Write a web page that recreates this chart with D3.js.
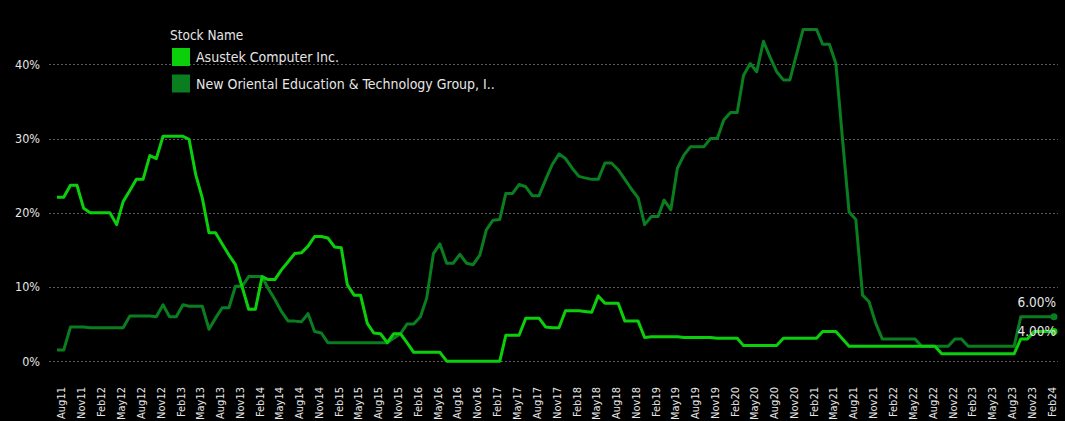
<!DOCTYPE html>
<html>
<head>
<meta charset="utf-8">
<script src="https://cdn.jsdelivr.net/npm/d3@7"></script>
<style>
  body { margin: 0; background: #000; }
  svg { display: block; background: #000; }
  text { font-family: 'DejaVu Sans Condensed', 'DejaVu Sans', sans-serif; font-stretch: condensed; fill: #e6e6e6; }
</style>
</head>
<body>
<div id="chart"></div>
<script>
var seriesNames = ['Asustek Computer Inc.', 'New Oriental Education & Technology Group, I..'];
var seriesColors = ['#0ccf0c', '#0a7d20'];
var startMonth = new Date(2011, 6, 1);

// monthly values in %, Jul 2011 .. Feb 2024
var asustek = [
    22.1, 22.1, 23.7, 23.7, 20.6, 20.0, 20.0, 20.0, 20.0, 18.4,
    21.5, 23.0, 24.5, 24.5, 27.7, 27.3, 30.3, 30.3, 30.3, 30.3,
    29.9, 25.1, 22.0, 17.3, 17.3, 15.8, 14.3, 13.0, 10.0, 7.0,
    7.0, 11.4, 11.0, 11.0, 12.3, 13.4, 14.5, 14.6, 15.5, 16.8,
    16.8, 16.6, 15.4, 15.3, 10.3, 8.9, 8.9, 5.1, 3.8, 3.7,
    2.5, 3.7, 3.7, 2.5, 1.2, 1.2, 1.2, 1.2, 1.2, 0,
    0, 0, 0, 0, 0, 0, 0, 0, 3.5, 3.5,
    3.5, 5.8, 5.8, 5.8, 4.6, 4.5, 4.5, 6.8, 6.8, 6.8,
    6.7, 6.6, 8.8, 7.8, 7.8, 7.8, 5.4, 5.4, 5.4, 3.2,
    3.3, 3.3, 3.3, 3.3, 3.3, 3.2, 3.2, 3.2, 3.2, 3.2,
    3.1, 3.1, 3.1, 3.1, 2.1, 2.1, 2.1, 2.1, 2.1, 2.1,
    3.1, 3.1, 3.1, 3.1, 3.1, 3.1, 4.0, 4.0, 4.0, 3.0,
    2.0, 2.0, 2.0, 2.0, 2.0, 2.0, 2.0, 2.0, 2.0, 2.0,
    2.0, 2.0, 2.0, 2.0, 1.0, 1.0, 1.0, 1.0, 1.0, 1.0,
    1.0, 1.0, 1.0, 1.0, 1.0, 1.0, 3.0, 3.0, 4.0, 4.0,
    4.0, 4.0
];

var newOriental = [
    1.5, 1.5, 4.6, 4.6, 4.6, 4.5, 4.5, 4.5, 4.5, 4.5,
    4.5, 6.1, 6.1, 6.1, 6.1, 6.0, 7.6, 6.0, 6.0, 7.6,
    7.4, 7.4, 7.4, 4.3, 5.8, 7.2, 7.2, 10.1, 10.1, 11.4,
    11.4, 11.4, 9.8, 8.3, 6.7, 5.4, 5.4, 5.3, 6.4, 4.0,
    3.8, 2.5, 2.5, 2.5, 2.5, 2.5, 2.5, 2.5, 2.5, 2.5,
    2.5, 3.1, 3.7, 5.0, 5.0, 6.0, 8.5, 14.5, 15.8, 13.2,
    13.2, 14.4, 13.2, 13.0, 14.3, 17.7, 19.0, 19.1, 22.6, 22.6,
    23.8, 23.5, 22.3, 22.3, 24.5, 26.5, 27.9, 27.3, 26.0, 24.9,
    24.7, 24.5, 24.5, 26.7, 26.7, 25.8, 24.5, 23.2, 22.0, 18.4,
    19.5, 19.5, 21.7, 20.4, 26.0, 27.8, 28.9, 28.9, 28.9, 30.0,
    30.0, 32.5, 33.5, 33.5, 38.5, 40.1, 39.0, 43.1, 41.0, 39.0,
    37.9, 37.9, 41.4, 44.7, 44.7, 44.7, 42.7, 42.7, 40.1, 29.8,
    20.1, 19.1, 8.9, 8.0, 5.1, 3.0, 3.0, 3.0, 3.0, 3.0,
    3.0, 2.0, 2.0, 2.0, 2.0, 2.0, 3.0, 3.0, 2.0, 2.0,
    2.0, 2.0, 2.0, 2.0, 2.0, 2.0, 6.0, 6.0, 6.0, 6.0,
    6.0, 6.0
];

var yTicks = [0, 0.1, 0.2, 0.3, 0.4];

var width = 1065,
    height = 421;

var months = asustek.map(function(d, i) { return d3.timeMonth.offset(startMonth, i); });

var series = [asustek, newOriental].map(function(values, s) {
    return {
        name: seriesNames[s],
        color: seriesColors[s],
        points: values.map(function(v, i) { return {date: months[i], value: v / 100}; })
    };
});

var x = d3.scaleTime()
    .domain([months[0], months[months.length - 1]])
    .range([57, 1054]);

var y = d3.scaleLinear()
    .domain([0, 0.4])
    .range([361.2, 64.3]);

var svg = d3.select('#chart').append('svg')
    .attr('width', width)
    .attr('height', height);

svg.append('g').selectAll('line')
    .data(yTicks)
    .enter()
    .append('line')
    .attr('x1', 49)
    .attr('x2', 1058)
    .attr('y1', function(d) { return Math.round(y(d)) + 0.5; })
    .attr('y2', function(d) { return Math.round(y(d)) + 0.5; })
    .attr('stroke', '#5a5a5a')
    .attr('stroke-dasharray', '2,2');

var yAxis = svg.append('g')
    .attr('transform', 'translate(40,0)')
    .call(d3.axisLeft(y).tickValues(yTicks).tickFormat(d3.format('.0%')).tickSize(0).tickPadding(0));
yAxis.select('.domain').remove();
yAxis.selectAll('text')
    .attr('fill', '#e6e6e6')
    .style('font-size', '12.5px')
    .style('font-family', null);

var tickDates = months.filter(function(d) { return d.getMonth() % 3 === 1; });

var xAxis = svg.append('g')
    .attr('transform', 'translate(0,387)')
    .call(d3.axisBottom(x).tickValues(tickDates).tickFormat(d3.timeFormat('%b%y')).tickSize(0));
xAxis.select('.domain').remove();
xAxis.selectAll('text')
    .attr('x', 0)
    .attr('y', 0)
    .attr('dy', '0.1em')
    .attr('transform', 'rotate(-90)')
    .attr('fill', '#e6e6e6')
    .style('text-anchor', 'end')
    .style('font-size', '11px')
    .style('font-family', null);

var line = d3.line()
    .x(function(d) { return x(d.date); })
    .y(function(d) { return y(d.value); });

var drawOrder = series.slice().reverse();

svg.append('g').selectAll('path')
    .data(drawOrder)
    .enter()
    .append('path')
    .attr('d', function(d) { return line(d.points); })
    .attr('fill', 'none')
    .attr('stroke', function(d) { return d.color; })
    .attr('stroke-width', 3)
    .attr('stroke-linejoin', 'round');

svg.append('g').selectAll('circle')
    .data(drawOrder)
    .enter()
    .append('circle')
    .attr('cx', function(d) { return x(d.points[d.points.length - 1].date); })
    .attr('cy', function(d) { return y(d.points[d.points.length - 1].value); })
    .attr('r', 3.5)
    .attr('fill', function(d) { return d.color; });

// end labels, pushed apart when they collide
var endLabels = series.map(function(d) {
    var last = d.points[d.points.length - 1];
    return {text: d3.format('.2%')(last.value), cy: y(last.value)};
}).sort(function(a, b) { return b.cy - a.cy; });
for (var k = 1; k < endLabels.length; k++) {
    if (endLabels[k - 1].cy - endLabels[k].cy < 29) endLabels[k].cy = endLabels[k - 1].cy - 29;
}

svg.append('g').selectAll('text')
    .data(endLabels)
    .enter()
    .append('text')
    .attr('x', 1056)
    .attr('y', function(d) { return d.cy; })
    .attr('dy', '0.36em')
    .attr('text-anchor', 'end')
    .style('font-size', '13.5px')
    .text(function(d) { return d.text; });

var legend = svg.append('g');

legend.append('text')
    .attr('x', 170)
    .attr('y', 40)
    .style('font-size', '13.5px')
    .text('Stock Name');

var item = legend.selectAll('.item')
    .data(series)
    .enter()
    .append('g')
    .attr('class', 'item')
    .attr('transform', function(d, i) { return 'translate(172,' + (48 + i * 26.5) + ')'; });

item.append('rect')
    .attr('width', 18)
    .attr('height', 18)
    .attr('fill', function(d) { return d.color; });

item.append('text')
    .attr('x', 24)
    .attr('y', 9)
    .attr('dy', '0.36em')
    .style('font-size', '14px')
    .text(function(d) { return d.name; });
</script>
</body>
</html>
